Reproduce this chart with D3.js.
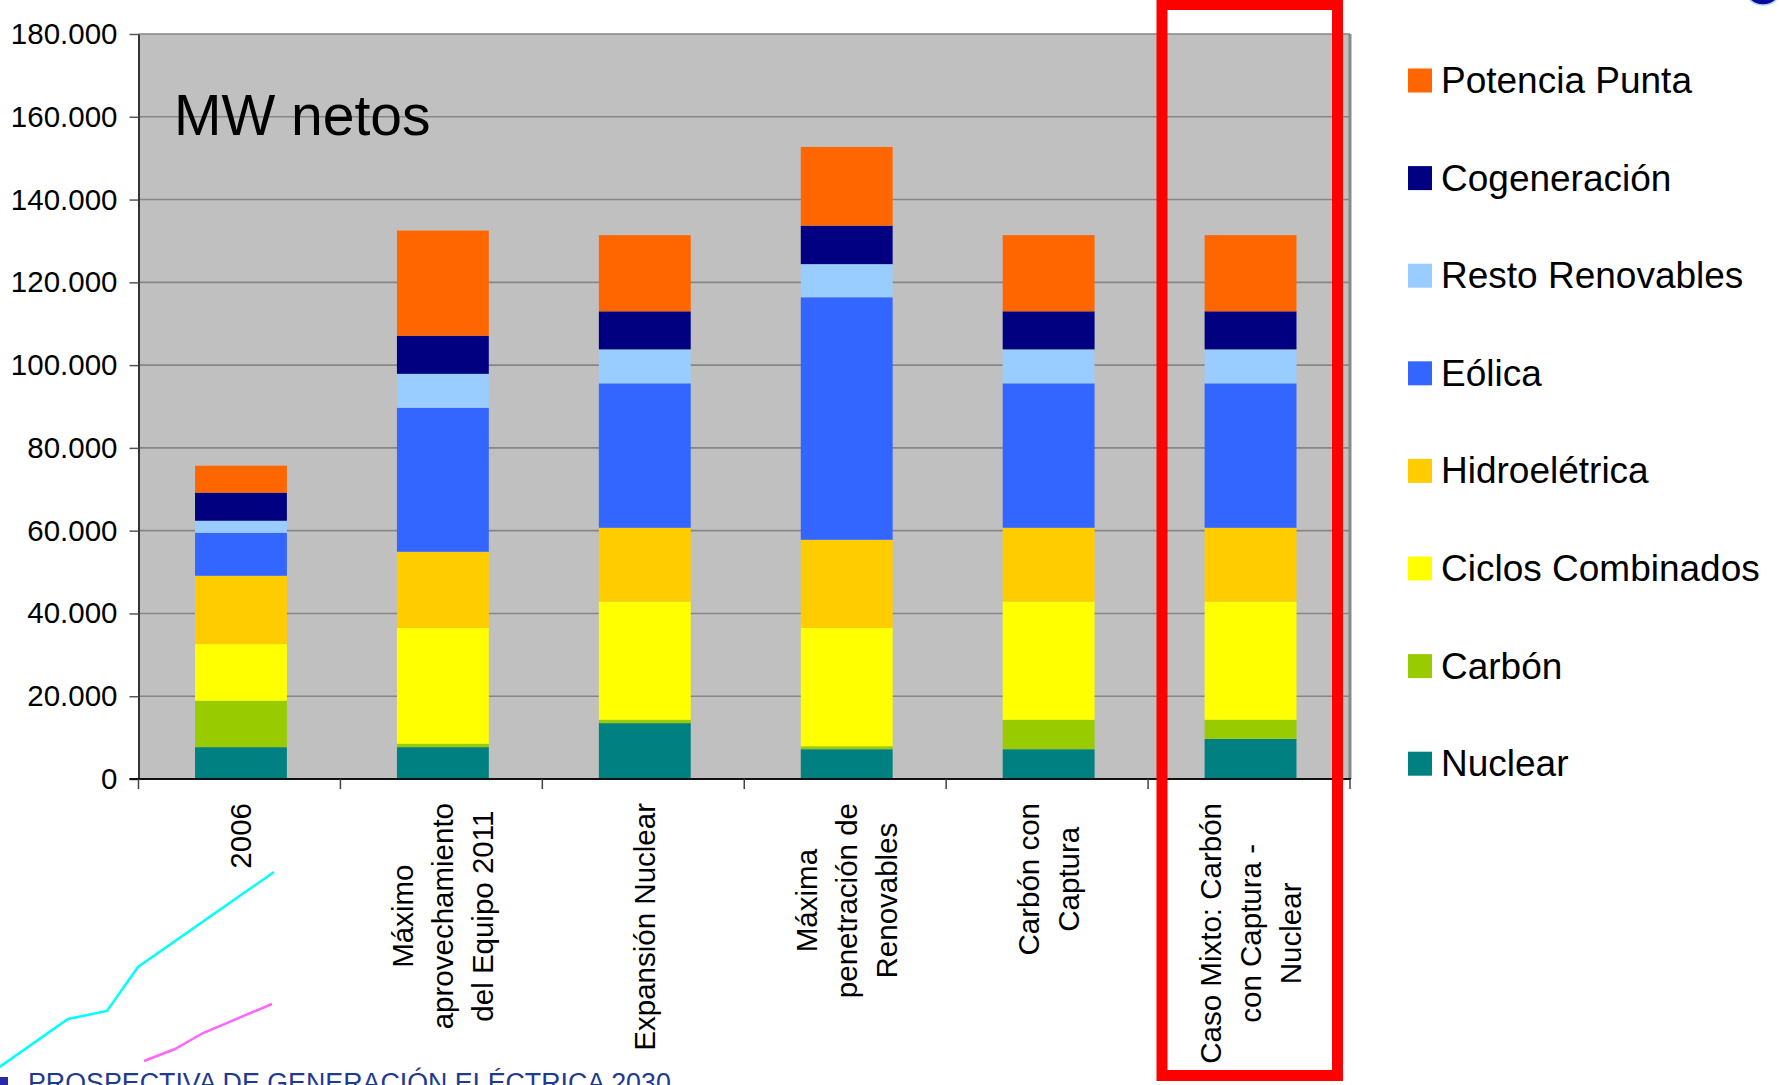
<!DOCTYPE html>
<html>
<head>
  <meta charset="UTF-8">
  <title>MW netos</title>
  <script src="https://cdn.jsdelivr.net/npm/d3@7"></script>
  <style>
    body { margin: 0; background: #fff; }
    svg { display: block; font-family: "Liberation Sans", Arial, sans-serif; }
  </style>
</head>
<body>
<svg id="chart" width="1779" height="1085"></svg>
<script>
// scenario names (lines of each axis label)
var categories = ["2006", "Máximo aprovechamiento", "Expansión Nuclear", "Máxima penetración", "Carbón con Captura", "Caso Mixto"];
var catLines = [
  ["2006"],
  ["Máximo", "aprovechamiento", "del Equipo 2011"],
  ["Expansión Nuclear"],
  ["Máxima", "penetración de", "Renovables"],
  ["Carbón con", "Captura"],
  ["Caso Mixto: Carbón", "con Captura -", "Nuclear"]
];

// MW netos per technology, one value per scenario
var nuclear = [7700, 7700, 13500, 7200, 7200, 9700];
var carbon  = [11200, 800, 800, 700, 7100, 4600];
var ciclos  = [13700, 28000, 28600, 28600, 28600, 28600];
var hidro   = [16500, 18400, 17800, 21300, 17800, 17800];
var eolica  = [10400, 34800, 34900, 58600, 34900, 34900];
var resto   = [2900, 8200, 8200, 8000, 8200, 8200];
var cogen   = [6800, 9200, 9200, 9300, 9200, 9200];
var punta   = [6500, 25400, 18400, 19000, 18400, 18400];

// stacking order, bottom to top
var seriesNames = ["Nuclear", "Carbón", "Ciclos Combinados", "Hidroelétrica", "Eólica", "Resto Renovables", "Cogeneración", "Potencia Punta"];
var seriesValues = [nuclear, carbon, ciclos, hidro, eolica, resto, cogen, punta];
var seriesColors = ["#008080", "#99CC00", "#FFFF00", "#FFCC00", "#3366FF", "#99CCFF", "#000080", "#FF6600"];

var yTicks = [0, 20000, 40000, 60000, 80000, 100000, 120000, 140000, 160000, 180000];

var svg = d3.select("#chart");

var plotLeft = 138.5, plotRight = 1350, plotTop = 34, plotBottom = 779;

var x = d3.scaleBand().domain(categories).range([plotLeft + 1.5, plotRight + 1.5])
  .paddingInner(0.545).paddingOuter(0.2725);
var y = d3.scaleLinear().domain([0, 180000]).range([plotBottom, plotTop]);
var color = d3.scaleOrdinal().domain(seriesNames).range(seriesColors);

var es = d3.formatLocale({decimal: ",", thousands: ".", grouping: [3], currency: ["", "€"]});
var fmt = es.format(",.0f");

// table for d3.stack
var rows = categories.map(function(c, i) {
  var r = {cat: c};
  seriesNames.forEach(function(s, j) { r[s] = seriesValues[j][i]; });
  return r;
});
var stacked = d3.stack().keys(seriesNames)(rows);

// plot background
svg.append("rect")
  .attr("x", plotLeft).attr("y", plotTop)
  .attr("width", plotRight - plotLeft).attr("height", plotBottom - plotTop)
  .attr("fill", "#C0C0C0");

// gridlines
svg.append("g").selectAll("line")
  .data(yTicks.filter(function(d) { return d > 0; }))
  .join("line")
  .attr("x1", plotLeft).attr("x2", plotRight)
  .attr("y1", function(d) { return y(d); }).attr("y2", function(d) { return y(d); })
  .attr("stroke", "#868686").attr("stroke-width", 1.6);

// right border of plot area
svg.append("line")
  .attr("x1", plotRight).attr("x2", plotRight).attr("y1", plotTop).attr("y2", plotBottom)
  .attr("stroke", "#8a8a8a").attr("stroke-width", 3);

// bars
svg.append("g").selectAll("g")
  .data(stacked)
  .join("g")
  .attr("fill", function(d) { return color(d.key); })
  .selectAll("rect")
  .data(function(d) { return d; })
  .join("rect")
  .attr("x", function(d) { return x(d.data.cat); })
  .attr("width", x.bandwidth())
  .attr("y", function(d) { return y(d[1]); })
  .attr("height", function(d) { return y(d[0]) - y(d[1]); });

// y axis
var yAxis = svg.append("g")
  .attr("transform", "translate(" + plotLeft + ",0)")
  .call(d3.axisLeft(y).tickValues(yTicks).tickFormat(fmt).tickSizeInner(9).tickSizeOuter(0).tickPadding(12));
yAxis.select(".domain").attr("stroke", "#333").attr("stroke-width", 2);
yAxis.selectAll(".tick line").attr("stroke", "#555").attr("stroke-width", 1.5);
yAxis.selectAll(".tick text")
  .attr("font-size", 29.5).attr("fill", "#000")
  .attr("font-family", "'Liberation Sans', Arial, sans-serif");

// x axis line and ticks at category boundaries
svg.append("line")
  .attr("x1", plotLeft - 9).attr("x2", plotRight + 1).attr("y1", plotBottom).attr("y2", plotBottom)
  .attr("stroke", "#111").attr("stroke-width", 2);
var bounds = d3.range(categories.length + 1).map(function(i) { return plotLeft + i * x.step(); });
svg.append("g").selectAll("line")
  .data(bounds).join("line")
  .attr("x1", function(d) { return d; }).attr("x2", function(d) { return d; })
  .attr("y1", plotBottom).attr("y2", plotBottom + 10)
  .attr("stroke", "#444").attr("stroke-width", 1.5);

// category labels, rotated, lines centred, longest line ending under the axis
var labelTop = 803, lineGap = 40;
catLines.forEach(function(lines, i) {
  var cx = x(categories[i]) + x.bandwidth() / 2;
  var g = svg.append("g");
  var texts = lines.map(function(t, k) {
    var off = (k - (lines.length - 1) / 2) * lineGap;
    return g.append("text")
      .attr("font-size", 29.5)
      .attr("fill", "#000")
      .attr("text-anchor", "middle")
      .attr("data-off", off)
      .text(t);
  });
  var maxLen = d3.max(texts, function(t) { return t.node().getComputedTextLength(); });
  texts.forEach(function(t) {
    var px = cx + (+t.attr("data-off")) + 10;
    var py = labelTop + maxLen / 2;
    t.attr("transform", "translate(" + px + "," + py + ") rotate(-90)");
  });
});

// chart title inside the plot
svg.append("text")
  .attr("x", 174).attr("y", 135)
  .attr("font-size", 57).attr("fill", "#000")
  .text("MW netos");

// legend, top series first
var legendOrder = seriesNames.slice().reverse();
var leg = svg.append("g").selectAll("g")
  .data(legendOrder).join("g")
  .attr("transform", function(d, i) { return "translate(1408," + (80.5 + i * 97.6) + ")"; });
leg.append("rect")
  .attr("x", 0).attr("y", -12).attr("width", 24).attr("height", 24)
  .attr("fill", function(d) { return color(d); });
leg.append("text")
  .attr("x", 33).attr("y", 12.5)
  .attr("font-size", 37).attr("fill", "#000")
  .text(function(d) { return d; });

// red highlight frame round the last scenario
svg.append("rect")
  .attr("x", 1162).attr("y", 4.5).attr("width", 175.5).attr("height", 1071)
  .attr("fill", "none").attr("stroke", "#FF0000").attr("stroke-width", 11);

// slide decorations
svg.append("path")
  .attr("d", d3.line()([[-2, 1068], [68, 1019], [107, 1011], [138, 967], [274, 872]]))
  .attr("fill", "none").attr("stroke", "#00FFFF").attr("stroke-width", 2.5);
svg.append("path")
  .attr("d", d3.line()([[144, 1061], [175, 1049], [203, 1033], [272, 1004]]))
  .attr("fill", "none").attr("stroke", "#FF66FF").attr("stroke-width", 2.5);
svg.append("ellipse")
  .attr("cx", 1763).attr("cy", -9).attr("rx", 17).attr("ry", 14)
  .attr("fill", "#0A0A9A").attr("stroke", "#9fd8ff").attr("stroke-width", 1.5);

// slide footer, cut by the bottom edge
svg.append("rect")
  .attr("x", 0).attr("y", 1077).attr("width", 8).attr("height", 10)
  .attr("fill", "#2a2aa8");
svg.append("text")
  .attr("x", 28).attr("y", 1092)
  .attr("font-size", 26.8).attr("fill", "#1F3A8F")
  .text("PROSPECTIVA DE GENERACIÓN ELÉCTRICA 2030");
</script>
</body>
</html>
